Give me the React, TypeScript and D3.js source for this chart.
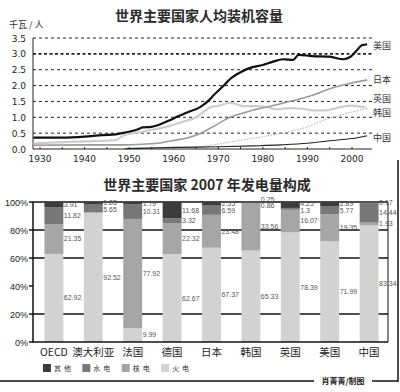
import { useEffect, useRef } from 'react';
import * as d3 from 'd3';

// 人均装机容量 (千瓦/人): [年份, 数值]
const usa: [number, number][] = [
  [1928.5, 0.36], [1935, 0.36], [1940, 0.39], [1944, 0.44], [1947, 0.46], [1949, 0.52],
  [1952, 0.62], [1953, 0.68], [1955, 0.7], [1957, 0.78], [1959, 0.9], [1961, 1.03],
  [1963, 1.15], [1966, 1.33], [1968, 1.55], [1969, 1.7], [1971, 1.97], [1972.6, 2.2],
  [1975, 2.42], [1977, 2.55], [1980, 2.65], [1982, 2.74], [1984.5, 2.83], [1986.8, 2.81],
  [1988, 2.97], [1991, 2.93], [1995, 2.91], [1998, 2.83], [1999.6, 2.9], [2001, 3.1],
  [2002.2, 3.27], [2003.4, 3.3],
];
const japan: [number, number][] = [
  [1928.5, 0.12], [1940, 0.13], [1948, 0.13], [1953, 0.15], [1957, 0.19], [1960, 0.27],
  [1963, 0.35], [1966, 0.49], [1968.8, 0.7], [1972.6, 1.0], [1976.4, 1.17], [1980, 1.3],
  [1983.8, 1.42], [1987.6, 1.55], [1991.3, 1.7], [1995, 1.9], [1999, 2.05], [2003.4, 2.18],
];
const uk: [number, number][] = [
  [1928.5, 0.18], [1940, 0.24], [1947, 0.28], [1948.6, 0.42], [1952, 0.52], [1955, 0.6],
  [1959, 0.72], [1962, 0.86], [1965, 1.0], [1967, 1.2], [1968.5, 1.33], [1970, 1.36],
  [1972.5, 1.45], [1974, 1.42], [1975.5, 1.35], [1978, 1.35], [1981, 1.32], [1983, 1.25],
  [1986, 1.29], [1989, 1.27], [1991, 1.22], [1994, 1.22], [1996, 1.27], [1999.5, 1.37],
  [2001, 1.35], [2003, 1.32],
];
const korea: [number, number][] = [
  [1955, 0.0], [1960, 0.02], [1966, 0.07], [1972.6, 0.22], [1980, 0.39], [1986, 0.55],
  [1990, 0.7], [1993.5, 0.9], [1997, 1.05], [2001, 1.2], [2003.4, 1.28],
];
const china: [number, number][] = [
  [1949, 0.01], [1961, 0.05], [1970, 0.07], [1978, 0.1], [1984, 0.13], [1990, 0.18],
  [1995, 0.26], [2000, 0.33], [2003.4, 0.42],
];
const yearTicks = [1930, 1940, 1950, 1960, 1970, 1980, 1990, 2000];
const capTicks = [0, 0.5, 1, 1.5, 2, 2.5, 3, 3.5];

// 2007 年发电量构成 (%)
const categories = ['OECD', '澳大利亚', '法国', '德国', '日本', '韩国', '英国', '美国', '中国'];
const thermal = [62.92, 92.52, 9.99, 62.67, 67.37, 65.33, 78.39, 71.99, 83.34];
const nuclear = [21.35, 0, 77.92, 22.32, 23.48, 33.56, 16.07, 19.35, 1.93];
const hydro = [11.82, 5.65, 10.31, 3.32, 6.59, 0.86, 1.3, 5.77, 14.44];
const other = [3.91, 1.83, 1.79, 11.68, 2.55, 0.25, 4.25, 2.89, 0.17];
const sourceKeys = ['火电', '核电', '水电', '其他'];
const legendOrder = ['其他', '水电', '核电', '火电'];
const pctTicks = [0, 20, 40, 60, 80, 100];

const CJK = '"Noto Sans CJK SC", "Noto Sans", sans-serif';
const NUM = '"DejaVu Sans", sans-serif';
const ARIAL = '"Liberation Sans", Arial, sans-serif';

export default function App() {
  const svgRef = useRef<SVGSVGElement>(null);

  useEffect(() => {
    if (!svgRef.current) return;
    const svg = d3.select(svgRef.current);
    svg.selectAll('*').remove();

    // ---------- 上图: 人均装机容量 ----------
    const x = d3.scaleLinear().domain([1930, 2000]).range([40, 352]);
    const y = d3.scaleLinear().domain([0, 3.5]).range([149, 38]);
    const left = 33, right = 372;

    svg.append('text')
      .attr('x', 199).attr('y', 21)
      .attr('text-anchor', 'middle')
      .attr('font-family', CJK).attr('font-size', 14).attr('font-weight', 'bold')
      .attr('fill', '#2a2a2a')
      .text('世界主要国家人均装机容量');

    svg.append('text')
      .attr('x', 9).attr('y', 28)
      .attr('font-family', CJK).attr('font-size', 9).attr('fill', '#333')
      .text('千瓦 / 人');

    // 虚线网格
    svg.append('g').selectAll('line')
      .data(capTicks.filter(d => d > 0))
      .enter().append('line')
      .attr('x1', left).attr('x2', right)
      .attr('y1', d => y(d)).attr('y2', d => y(d))
      .attr('stroke', '#222')
      .attr('stroke-width', d => d === 3 ? 1.7 : 1)
      .attr('stroke-dasharray', d => d === 3 ? '3,2.5' : '3,3');

    svg.append('g').selectAll('text')
      .data(capTicks)
      .enter().append('text')
      .attr('x', 26).attr('y', d => y(d) + 3.5)
      .attr('text-anchor', 'end')
      .attr('font-family', NUM).attr('font-size', 9).attr('fill', '#222')
      .text(d => d.toFixed(1));

    // 坐标轴
    svg.append('line')
      .attr('x1', left).attr('x2', left).attr('y1', y(3.5)).attr('y2', y(0))
      .attr('stroke', '#222').attr('stroke-width', 1);
    svg.append('line')
      .attr('x1', left).attr('x2', right).attr('y1', y(0)).attr('y2', y(0))
      .attr('stroke', '#222').attr('stroke-width', 1);
    svg.append('g').selectAll('line')
      .data(d3.range(1930, 2005, 5))
      .enter().append('line')
      .attr('x1', d => x(d)).attr('x2', d => x(d))
      .attr('y1', y(0)).attr('y2', y(0) - 2)
      .attr('stroke', '#222');
    svg.append('g').selectAll('text')
      .data(yearTicks)
      .enter().append('text')
      .attr('x', d => x(d)).attr('y', 162)
      .attr('text-anchor', 'middle')
      .attr('font-family', NUM).attr('font-size', 9).attr('fill', '#222')
      .text(d => d);

    const lineGen = d3.line<[number, number]>()
      .x(d => x(d[0])).y(d => y(d[1]))
      .curve(d3.curveMonotoneX);

    const series = [
      { name: '英国', data: uk, color: '#cdcdcd', width: 2.2, dash: null, dy: -8 },
      { name: '日本', data: japan, color: '#9a9a9a', width: 1.6, dash: null, dy: 0 },
      { name: '韩国', data: korea, color: '#a8a8a8', width: 1, dash: '1.5,1.5', dy: 4.5 },
      { name: '中国', data: china, color: '#222', width: 1.1, dash: null, dy: 2 },
      { name: '美国', data: usa, color: '#111', width: 2.2, dash: null, dy: 1 },
    ];

    series.forEach(s => {
      svg.append('path')
        .datum(s.data)
        .attr('d', lineGen)
        .attr('fill', 'none')
        .attr('stroke', s.color)
        .attr('stroke-width', s.width)
        .attr('stroke-dasharray', s.dash)
        .attr('stroke-linejoin', 'round');
      const last = s.data[s.data.length - 1];
      svg.append('text')
        .attr('x', 373).attr('y', y(last[1]) + s.dy + 3.2)
        .attr('font-family', CJK).attr('font-size', 9).attr('fill', '#333')
        .text(s.name);
    });

    // ---------- 下图: 2007 年发电量构成 ----------
    const xb = d3.scaleBand<string>().domain(categories).range([33, 390])
      .paddingInner(0.52).paddingOuter(0.29);
    const yb = d3.scaleLinear().domain([0, 100]).range([342, 202]);
    const bRight = 388;

    svg.append('text')
      .attr('x', 207).attr('y', 190)
      .attr('text-anchor', 'middle')
      .attr('font-family', CJK).attr('font-size', 14).attr('font-weight', 'bold')
      .attr('fill', '#2a2a2a')
      .text('世界主要国家 2007 年发电量构成');

    // 网格 (40% 线在原图中被数字遮住)
    svg.append('g').selectAll('line')
      .data(pctTicks.filter(d => d !== 40 && d !== 0))
      .enter().append('line')
      .attr('x1', 33).attr('x2', bRight)
      .attr('y1', d => yb(d)).attr('y2', d => yb(d))
      .attr('stroke', '#111').attr('stroke-width', 1.5);
    svg.append('g').selectAll('line')
      .data(pctTicks)
      .enter().append('line')
      .attr('x1', 29).attr('x2', 33)
      .attr('y1', d => yb(d)).attr('y2', d => yb(d))
      .attr('stroke', '#111').attr('stroke-width', 1.5);
    svg.append('g').selectAll('text')
      .data(pctTicks)
      .enter().append('text')
      .attr('x', 28).attr('y', d => yb(d) + 3.5)
      .attr('text-anchor', 'end')
      .attr('font-family', ARIAL).attr('font-size', 9).attr('fill', '#222')
      .text(d => `${d}%`);

    const table = categories.map((c, i) => ({
      cat: c, 火电: thermal[i], 核电: nuclear[i], 水电: hydro[i], 其他: other[i],
    }));
    const colors = d3.scaleOrdinal<string>().domain(sourceKeys)
      .range(['#d2d2d2', '#a6a6a6', '#787878', '#3c3c3c']);
    const stacked = d3.stack<any>().keys(sourceKeys)(table);

    stacked.forEach(layer => {
      svg.append('g').selectAll('rect')
        .data(layer)
        .enter().append('rect')
        .attr('x', d => xb(d.data.cat)!)
        .attr('width', xb.bandwidth())
        .attr('y', d => yb(d[1]))
        .attr('height', d => yb(d[0]) - yb(d[1]))
        .attr('fill', colors(layer.key));
    });

    // 轴线与边框
    svg.append('line')
      .attr('x1', 33).attr('x2', 33).attr('y1', 202).attr('y2', 342.5)
      .attr('stroke', '#111').attr('stroke-width', 1.5);
    svg.append('line')
      .attr('x1', 33).attr('x2', bRight).attr('y1', yb(0)).attr('y2', yb(0))
      .attr('stroke', '#111').attr('stroke-width', 1.5);
    svg.append('line')
      .attr('x1', bRight).attr('x2', bRight).attr('y1', yb(100)).attr('y2', yb(0))
      .attr('stroke', '#111').attr('stroke-width', 1);

    // 数值标签: 放在各段中点, 重叠时上下推开
    categories.forEach((c, i) => {
      const labels: { v: number; y: number }[] = [];
      stacked.forEach(layer => {
        const d = layer[i];
        const v = d[1] - d[0];
        if (v > 0) labels.push({ v, y: (yb(d[0]) + yb(d[1])) / 2 });
      });
      labels.sort((a, b) => a.y - b.y);
      for (let it = 0; it < 20; it++) {
        for (let k = 1; k < labels.length; k++) {
          const gap = labels[k].y - labels[k - 1].y;
          if (gap < 6.5) {
            const push = (6.5 - gap) / 2;
            labels[k - 1].y -= push;
            labels[k].y += push;
          }
        }
      }
      labels.forEach(l => {
        svg.append('text')
          .attr('x', xb(c)! + xb.bandwidth() + 0.5)
          .attr('y', l.y + 2.4)
          .attr('font-family', ARIAL).attr('font-size', 7).attr('fill', '#555')
          .text(+l.v.toFixed(2));
      });
    });

    svg.append('g').selectAll('text')
      .data(categories)
      .enter().append('text')
      .attr('x', d => xb(d)! + xb.bandwidth() / 2)
      .attr('y', 356)
      .attr('text-anchor', 'middle')
      .attr('font-family', CJK).attr('font-size', 10.5).attr('fill', '#222')
      .text(d => d);

    // 图例
    const lg = svg.append('g');
    legendOrder.forEach((k, i) => {
      const lx = xb(categories[i])! - 1.5;
      lg.append('rect')
        .attr('x', lx).attr('y', 364).attr('width', 8).attr('height', 8)
        .attr('fill', colors(k));
      lg.append('text')
        .attr('x', lx + 11).attr('y', 371)
        .attr('font-family', CJK).attr('font-size', 7).attr('letter-spacing', 3)
        .attr('fill', '#333')
        .text(k);
    });

    // 外框与署名
    svg.append('line')
      .attr('x1', 0).attr('x2', 314).attr('y1', 381).attr('y2', 381)
      .attr('stroke', '#111').attr('stroke-width', 1.5);
    svg.append('line')
      .attr('x1', 372).attr('x2', 398).attr('y1', 381).attr('y2', 381)
      .attr('stroke', '#111').attr('stroke-width', 1.5);
    svg.append('line')
      .attr('x1', 398).attr('x2', 398).attr('y1', 160).attr('y2', 381.75)
      .attr('stroke', '#111').attr('stroke-width', 1.5);
    svg.append('text')
      .attr('x', 343).attr('y', 384)
      .attr('text-anchor', 'middle')
      .attr('font-family', CJK).attr('font-size', 8).attr('font-weight', 'bold')
      .attr('fill', '#222')
      .text('肖菁菁/制图');
  }, []);

  return (
    <svg
      ref={svgRef}
      width={400}
      height={392}
      style={{ position: 'absolute', left: 0, top: 0, background: '#fff' }}
    />
  );
}
